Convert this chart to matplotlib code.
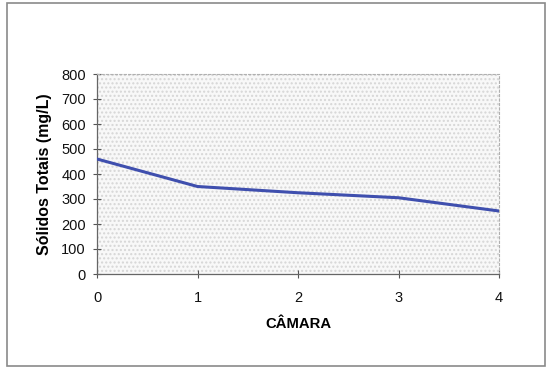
import matplotlib
matplotlib.use("Agg")
import matplotlib.pyplot as plt
from matplotlib.patches import Rectangle

camaras = [0, 1, 2, 3, 4]
solidos = [460, 350, 325, 305, 252]
y_ticks = [0, 100, 200, 300, 400, 500, 600, 700, 800]

plt.rcParams['font.family'] = ['Liberation Sans', 'DejaVu Sans']

fig = plt.figure(figsize=(5.46, 3.71), dpi=100)
fig.patch.set_facecolor('white')

# outer chart frame
fig.add_artist(Rectangle((7 / 546, 1 - 366 / 371), (545 - 7) / 546, (366 - 3) / 371,
                         transform=fig.transFigure, fill=False,
                         edgecolor='#8a8a8a', linewidth=1.2))

ax = fig.add_axes([97 / 546, 1 - 274 / 371, (499 - 97) / 546, 200 / 371])
ax.set_facecolor('#f8f8f8')
ax.add_patch(Rectangle((0, 0), 1, 1, transform=ax.transAxes, fill=False,
                       hatch='....', edgecolor='#d6d6d6', linewidth=0, zorder=0))

ax.plot(camaras, solidos, color='#3f4fae', linewidth=2.2, zorder=3)

ax.set_xlim(0, 4)
ax.set_ylim(0, 800)
ax.set_xticks(camaras)
ax.set_yticks(y_ticks)
ax.tick_params(direction='inout', length=6, width=0.8, colors='#555555',
               labelcolor='#111111', labelsize=10.5)
ax.tick_params(axis='x', pad=9)
ax.tick_params(axis='y', pad=5)

for side in ['top', 'right']:
    ax.spines[side].set_linestyle((0, (2, 2)))
    ax.spines[side].set_color('#b0b0b0')
    ax.spines[side].set_linewidth(0.8)
for side in ['left', 'bottom']:
    ax.spines[side].set_color('#666666')
    ax.spines[side].set_linewidth(0.9)

ax.set_ylabel('Sólidos Totais (mg/L)', fontsize=11.5, fontweight='bold')
ax.yaxis.set_label_coords(-0.112, 0.5)
ax.set_xlabel('CÂMARA', fontsize=10.7, fontweight='bold')
ax.xaxis.set_label_coords(0.5, -0.215)

fig.savefig('out.png', dpi=100, facecolor='white')
